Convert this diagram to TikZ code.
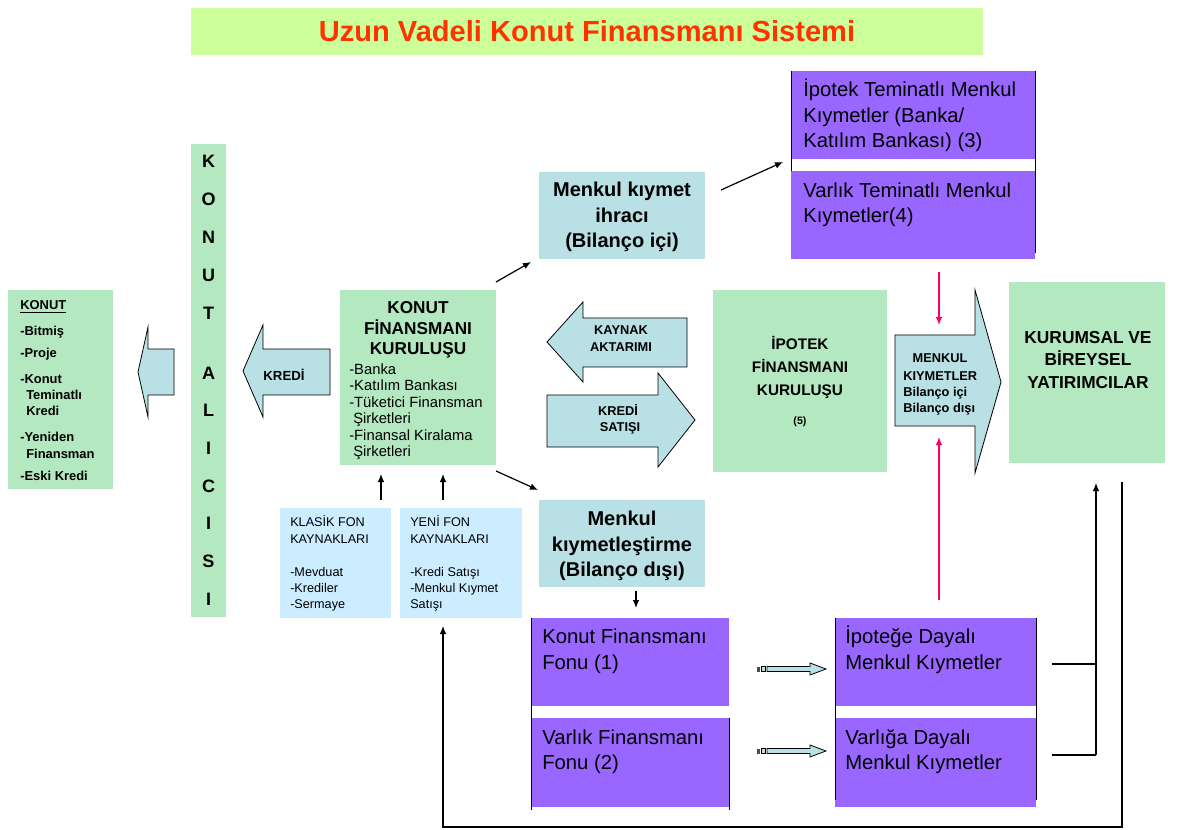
\documentclass[tikz,border=0pt]{standalone}
\usepackage{fontspec}
\setmainfont{Liberation Sans}
\usetikzlibrary{arrows.meta}

\definecolor{titlebg}{RGB}{204,255,153}
\definecolor{titlered}{RGB}{255,51,0}
\definecolor{mint}{RGB}{180,232,192}
\definecolor{aqua}{RGB}{185,224,228}
\definecolor{purp}{RGB}{153,102,255}
\definecolor{skyb}{RGB}{204,236,255}
\definecolor{pinkred}{RGB}{255,0,102}

\tikzset{
  panel/.style n args={4}{anchor=north west, at={(#1,#2)},
    minimum width={(#3)*0.75pt}, minimum height={(#4)*0.75pt},
    inner sep=0pt, outer sep=0pt, draw=none},
  ctext/.style={anchor=base, inner sep=0pt},
  ltext/.style={anchor=base west, inner sep=0pt},
  ftitle/.style={font=\fontsize{21.8}{26}\selectfont\bfseries, text=titlered},
  fbar/.style={font=\fontsize{13.5}{16}\selectfont\bfseries},
  fkonut/.style={font=\fontsize{9.7}{12}\selectfont\bfseries},
  fhead/.style={font=\fontsize{12.9}{15}\selectfont\bfseries},
  flist/.style={font=\fontsize{11.1}{13}\selectfont},
  fbig/.style={font=\fontsize{15}{18}\selectfont\bfseries},
  fpur/.style={font=\fontsize{15.2}{18}\selectfont},
  fipo/.style={font=\fontsize{11.5}{14}\selectfont\bfseries},
  fkur/.style={font=\fontsize{13}{15}\selectfont\bfseries},
  fmk/.style={font=\fontsize{9.6}{12}\selectfont\bfseries},
  ffon/.style={font=\fontsize{9.5}{12}\selectfont},
  farr/.style={font=\fontsize{9.6}{12}\selectfont\bfseries},
  conn/.style={draw=black, line width=0.9pt, -{Latex[length=6pt,width=5pt]}},
  plain/.style={draw=black, line width=0.9pt},
  pinkconn/.style={draw=pinkred, line width=0.9pt, -{Latex[length=6pt,width=5pt]}},
  blockarrow/.style={fill=aqua, draw=black, line width=0.6pt, line join=miter},
  edge/.style={draw=black, line width=0.6pt},
}

\begin{document}
\begin{tikzpicture}[x=0.75pt,y=-0.75pt]
\useasboundingbox (0,0) rectangle (1181,830);

% ---- title ----
\node[panel={191}{8}{792}{47}, fill=titlebg] (titlebar) {};
\node[ctext, ftitle] (title) at (587,41.5) {Uzun Vadeli Konut Finansmanı Sistemi};

% ---- housing types ----
\node[panel={8}{290}{105}{199}, fill=mint] (konut) {};
\node[ltext, fkonut] (k0) at (20,310) {\underline{KONUT}};
\node[ltext, fkonut] (k1) at (20,336) {-Bitmiş};
\node[ltext, fkonut] (k2) at (20,358) {-Proje};
\node[ltext, fkonut] (k3) at (20,383) {-Konut};
\node[ltext, fkonut] (k4) at (26,399) {Teminatlı};
\node[ltext, fkonut] (k5) at (26,415) {Kredi};
\node[ltext, fkonut] (k6) at (20,441) {-Yeniden};
\node[ltext, fkonut] (k7) at (26,458) {Finansman};
\node[ltext, fkonut] (k8) at (20,480) {-Eski Kredi};

% arrow towards the housing box
\path[blockarrow] (174,349) -- (148,349) -- (148,327) -- (138,372) -- (148,417) -- (148,395) -- (174,395) -- cycle;

% ---- vertical buyer bar ----
\node[panel={191}{144}{35}{473}, fill=mint] (alici) {};
\foreach \ch/\yy [count=\i] in {K/168,O/206,N/244,U/282,T/320,A/379,L/416.6,I/454,C/492,I/529.5,S/567,I/605}
  \node[ctext, fbar] (al\i) at (208.5,\yy) {\ch};

% ---- credit arrow ----
\path[blockarrow] (330,349) -- (263,349) -- (263,325) -- (243,371) -- (263,417) -- (263,395) -- (330,395) -- cycle;
\node[ctext, farr, font=\fontsize{9.9}{12}\selectfont\bfseries] (kredi) at (284,380) {KREDİ};

% ---- housing finance institution ----
\node[panel={340}{290}{156}{175}, fill=mint] (kfk) {};
\node[ctext, fhead] (kfk1) at (418,314) {KONUT};
\node[ctext, fhead] (kfk2) at (418,335) {FİNANSMANI};
\node[ctext, fhead] (kfk3) at (418,355) {KURULUŞU};
\node[ltext, flist] (kl1) at (349,374) {-Banka};
\node[ltext, flist] (kl2) at (349,390.5) {-Katılım Bankası};
\node[ltext, flist] (kl3) at (349,407) {-Tüketici Finansman};
\node[ltext, flist] (kl4) at (353,423.5) {Şirketleri};
\node[ltext, flist] (kl5) at (349,440) {-Finansal Kiralama};
\node[ltext, flist] (kl6) at (353,456.5) {Şirketleri};

% ---- fund sources ----
\node[panel={280}{508}{111}{110}, fill=skyb] (klasik) {};
\node[ltext, ffon] (kf1) at (290,526.7) {KLASİK FON};
\node[ltext, ffon] (kf2) at (290,543.3) {KAYNAKLARI};
\node[ltext, ffon] (kf3) at (290,576) {-Mevduat};
\node[ltext, ffon] (kf4) at (290,592) {-Krediler};
\node[ltext, ffon] (kf5) at (290,608) {-Sermaye};

\node[panel={400}{508}{122}{110}, fill=skyb] (yeni) {};
\node[ltext, ffon] (yf1) at (410,526.7) {YENİ FON};
\node[ltext, ffon] (yf2) at (410,543.3) {KAYNAKLARI};
\node[ltext, ffon] (yf3) at (410,576) {-Kredi Satışı};
\node[ltext, ffon] (yf4) at (410,592) {-Menkul Kıymet};
\node[ltext, ffon] (yf5) at (410,608) {Satışı};

% ---- on / off balance sheet ----
\node[panel={539}{172}{166}{87}, fill=aqua] (ihrac) {};
\node[ctext, fbig] (ih1) at (622,197) {Menkul kıymet};
\node[ctext, fbig] (ih2) at (622,223) {ihracı};
\node[ctext, fbig] (ih3) at (622,248) {(Bilanço içi)};

\node[panel={539}{500}{166}{87}, fill=aqua] (mkl) {};
\node[ctext, fbig] (mk1) at (622,525) {Menkul};
\node[ctext, fbig] (mk2) at (622,551) {kıymetleştirme};
\node[ctext, fbig] (mk3) at (622,576) {(Bilanço dışı)};

% ---- transfer arrows ----
\path[blockarrow] (687,318) -- (583,318) -- (583,302) -- (547,342) -- (583,382) -- (583,367) -- (687,367) -- cycle;
\node[ctext, farr] (ka1) at (621,335) {KAYNAK};
\node[ctext, farr] (ka2) at (621,351.7) {AKTARIMI};
\path[blockarrow] (547,395) -- (658,395) -- (658,373) -- (695,420) -- (658,467) -- (658,447) -- (547,447) -- cycle;
\node[ctext, farr] (ks1) at (618,415) {KREDİ};
\node[ctext, farr] (ks2) at (620,431.7) {SATIŞI};

% ---- mortgage finance institution ----
\node[panel={713}{290}{174}{182}, fill=mint] (ipo) {};
\node[ctext, fipo] (ip1) at (800,350) {İPOTEK};
\node[ctext, fipo] (ip2) at (800,373) {FİNANSMANI};
\node[ctext, fipo] (ip3) at (800,396) {KURULUŞU};
\node[ctext, font=\fontsize{8}{10}\selectfont\bfseries] (ip4) at (800,424) {(5)};

% ---- securities arrow ----
\path[blockarrow] (895,335) -- (975,335) -- (975,290) -- (1001,382) -- (975,473) -- (975,426) -- (895,426) -- cycle;
\node[ctext, fmk] (ms1) at (940,363) {MENKUL};
\node[ltext, fmk] (ms2) at (903,380) {KIYMETLER};
\node[ltext, fmk] (ms3) at (903,396.7) {Bilanço içi};
\node[ltext, fmk] (ms4) at (903,412.7) {Bilanço dışı};

% ---- investors ----
\node[panel={1009}{282}{156}{181}, fill=mint] (kur) {};
\node[ctext, fkur] (ku1) at (1088,344) {KURUMSAL VE};
\node[ctext, fkur] (ku2) at (1088,366) {BİREYSEL};
\node[ctext, fkur] (ku3) at (1088,388) {YATIRIMCILAR};

% ---- covered securities ----
\node[panel={791}{71}{244}{88}, fill=purp] (itmk) {};
\node[ltext, fpur] (it1) at (803,97) {İpotek Teminatlı Menkul};
\node[ltext, fpur] (it2) at (803,123) {Kıymetler (Banka/};
\node[ltext, fpur] (it3) at (803,148) {Katılım Bankası) (3)};
\node[panel={791}{171}{244}{88}, fill=purp] (vtmk) {};
\node[ltext, fpur] (vt1) at (803,198) {Varlık Teminatlı Menkul};
\node[ltext, fpur] (vt2) at (803,223) {Kıymetler(4)};
\draw[edge] (791,71) -- (791,171);
\draw[edge] (1035,71) -- (1035,253);

% ---- funds ----
\node[panel={531}{618}{198}{88}, fill=purp] (kff) {};
\node[ltext, fpur] (kff1) at (542,643) {Konut Finansmanı};
\node[ltext, fpur] (kff2) at (542,669) {Fonu (1)};
\node[panel={531}{718}{198}{89}, fill=purp] (vff) {};
\node[ltext, fpur] (vff1) at (542,744) {Varlık Finansmanı};
\node[ltext, fpur] (vff2) at (542,769) {Fonu (2)};
\draw[edge] (531,618) -- (531,810);
\draw[edge] (729,718) -- (729,810);

% ---- backed securities ----
\node[panel={835}{618}{201}{88}, fill=purp] (idmk) {};
\node[ltext, fpur] (id1) at (845,643) {İpoteğe Dayalı};
\node[ltext, fpur] (id2) at (845,669) {Menkul Kıymetler};
\node[panel={835}{718}{201}{89}, fill=purp] (vdmk) {};
\node[ltext, fpur] (vd1) at (845,744) {Varlığa Dayalı};
\node[ltext, fpur] (vd2) at (845,769) {Menkul Kıymetler};
\draw[edge] (835,618) -- (835,800);
\draw[edge] (1036,618) -- (1036,800);

% small arrows from funds to securities
\foreach \cy in {669,751} {
  \path[blockarrow] (767,\cy-2.5) -- (810,\cy-2.5) -- (810,\cy-6) -- (826,\cy) -- (810,\cy+6) -- (810,\cy+2.5) -- (767,\cy+2.5) -- cycle;
  \path[fill=black!70] (756.5,\cy-2.5) rectangle (759.5,\cy+2.5);
  \path[blockarrow] (761,\cy-2.5) rectangle (765.5,\cy+2.5);
}

% ---- connectors ----
\coordinate (c1a) at (496,282);  \coordinate (c1b) at (531,262);
\draw[conn] (c1a) -- (c1b);
\coordinate (c2a) at (721,190);  \coordinate (c2b) at (783,162);
\draw[conn] (c2a) -- (c2b);
\coordinate (c3a) at (496,471);  \coordinate (c3b) at (538,490);
\draw[conn] (c3a) -- (c3b);
\coordinate (c4a) at (636,591);  \coordinate (c4b) at (636,608);
\draw[conn] (c4a) -- (c4b);
\coordinate (c5a) at (381,500);  \coordinate (c5b) at (381,474);
\draw[conn] (c5a) -- (c5b);
\coordinate (c6a) at (443,500);  \coordinate (c6b) at (443,474);
\draw[conn] (c6a) -- (c6b);

\coordinate (p1a) at (939,272);  \coordinate (p1b) at (939,325);
\draw[pinkconn] (p1a) -- (p1b);
\coordinate (p2a) at (939,600);  \coordinate (p2b) at (939,437);
\draw[pinkconn] (p2a) -- (p2b);

\coordinate (r1) at (1052,664);  \coordinate (r2) at (1052,755);
\coordinate (rj) at (1096,755);  \coordinate (rt) at (1096,483);
\draw[plain] (r1) -- (1096,664);
\draw[plain] (r2) -- (rj);
\draw[conn] (rj) -- (rt);

\coordinate (lp1) at (1122,482); \coordinate (lp2) at (443,626);
\draw[conn] (lp1) -- (1122,827) -- (443,827) -- (lp2);

\end{tikzpicture}
\end{document}
